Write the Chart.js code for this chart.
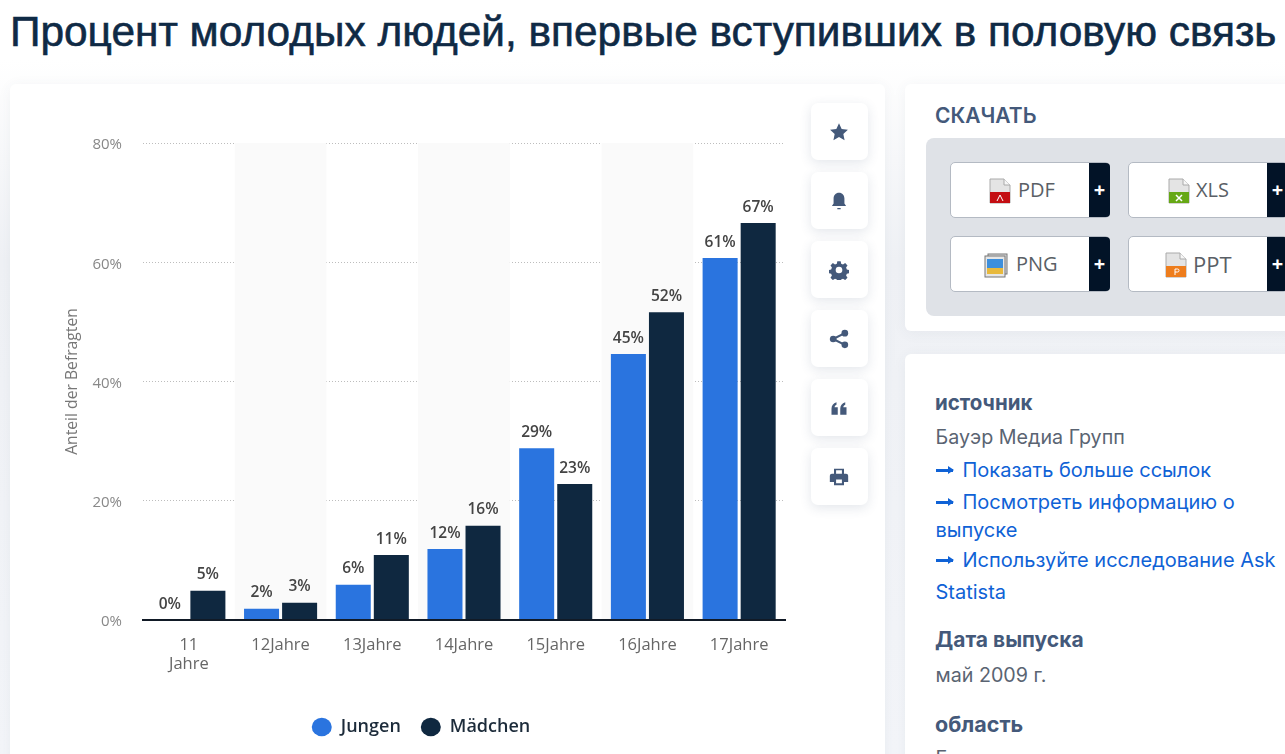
<!DOCTYPE html>
<html lang="ru"><head><meta charset="utf-8">
<script src="https://cdn.jsdelivr.net/npm/chart.js@4/dist/chart.umd.min.js"></script>
<style>
html,body{margin:0;padding:0;width:1285px;height:754px;overflow:hidden;font-family:Inter,sans-serif}
body{background:linear-gradient(180deg,#fff 0,#fff 60px,#eff1f5 260px,#f3f5f9 754px)}
.a{position:absolute}
h1{position:absolute;left:10px;top:9px;margin:0;font:400 42.400px/46px "Liberation Sans",sans-serif;color:#0f2a45;white-space:nowrap;-webkit-text-stroke:.6px #0f2a45}
.panel{position:absolute;background:#fff;border-radius:6px;box-shadow:0 2px 14px rgba(60,80,110,.06)}
#wrap{position:absolute;left:10px;top:84px;width:822px;height:670px}
.ib{position:absolute;left:811px;width:57px;height:57px;background:#fff;border-radius:7px;box-shadow:0 3px 12px rgba(60,80,110,.14);display:flex;align-items:center;justify-content:center}
.ib svg{width:20px;height:20px;fill:#44597a;margin-left:-2px}
.dl{position:absolute;width:160px;height:56px;box-sizing:border-box;background:#fff;border:1px solid #b4bac3;border-radius:5px;font:20px/54px "Open Sans",sans-serif;color:#5a5f66}
.dl .p{position:absolute;right:-1px;top:0;width:21px;height:54px;background:#021327;color:#fff;text-align:center;font:700 20px/54px "Open Sans",sans-serif;border-radius:0 4px 4px 0}
.dl .t{position:absolute;top:0}
.dl svg{position:absolute;top:15px;width:24px;height:26px}
.h{position:absolute;left:935px;font-weight:700;color:#44597a;white-space:nowrap}
.x{position:absolute;left:935.500px;font-size:19.700px;line-height:28px;color:#5a6472;white-space:nowrap}
.l{color:#0f62d6;font-size:20px}
.ar{display:inline-block;width:17px;height:3px;background:#0f62d6;position:relative;vertical-align:5px;margin-right:10px}
.ar:after{content:"";position:absolute;right:-1px;top:-3px;border-left:6px solid #0f62d6;border-top:4.500px solid transparent;border-bottom:4.500px solid transparent}
</style></head><body>
<h1>Процент молодых людей, впервые вступивших в половую связь</h1>
<div class="panel" style="left:10px;top:84px;width:875px;height:700px"></div>
<div class="panel" style="left:905px;top:84px;width:420px;height:247px"></div>
<div class="panel" style="left:905px;top:354px;width:420px;height:440px"></div>
<div id="wrap"><canvas id="c"></canvas></div>

<div class="ib" style="top:103px"><svg viewBox="0 0 24 24"><path d="M12 1.500l3.200 6.900 7.500.9-5.500 5.100 1.500 7.400L12 18.100l-6.700 3.700 1.500-7.400L1.300 9.300l7.500-.9z"/></svg></div>
<div class="ib" style="top:172px"><svg viewBox="0 0 24 24"><path d="M12 2c4 0 6.500 3 6.500 7v6l2 3H3.500l2-3V9c0-4 2.500-7 6.500-7zM10 20.500h4v1.500h-4z"/></svg></div>
<div class="ib" style="top:241px"><svg viewBox="0 0 24 24"><path fill-rule="evenodd" d="M10 1.500h4l.6 3 2.200.9 2.600-1.700 2.800 2.800-1.700 2.600.9 2.200 2.600.6v4l-2.600.6-.9 2.200 1.700 2.600-2.800 2.800-2.600-1.700-2.200.9-.6 2.600h-4l-.6-2.600-2.200-.9-2.600 1.700-2.800-2.800 1.700-2.600-.9-2.200-2.600-.6v-4l2.600-.6.9-2.200-1.700-2.600 2.800-2.800 2.600 1.700 2.200-.9zM12 8a4 4 0 100 8 4 4 0 000-8z"/></svg></div>
<div class="ib" style="top:310px"><svg viewBox="0 0 24 24"><circle cx="5" cy="12" r="4"/><circle cx="19" cy="5" r="4"/><circle cx="19" cy="19" r="4"/><path d="M5 12L19 5M5 12l14 7" stroke="#44597a" stroke-width="2.500" fill="none"/></svg></div>
<div class="ib" style="top:379px"><svg viewBox="0 0 24 24"><path d="M3 20v-7c0-4 2-7 6-8v3c-1.500.6-2.200 1.800-2.300 3H10.500v9zM13.500 20v-7c0-4 2-7 6-8v3c-1.500.6-2.200 1.800-2.300 3H21v9z"/></svg></div>
<div class="ib" style="top:448px"><svg viewBox="0 0 24 24"><path fill-rule="evenodd" d="M6 2h12v6h2.500A2.500 2.500 0 0123 10.500V18h-5v4H6v-4H1v-7.500A2.500 2.500 0 013.500 8H6zM8.500 4v4h7V4zM8.500 15v4.500h7V15z"/></svg></div>

<div class="h" style="top:102px;font-size:21px;line-height:28px;font-weight:600">СКАЧАТЬ</div>
<div class="a" style="left:926px;top:138px;width:370px;height:178px;background:#dfe2e7;border-radius:8px"></div>
<div class="dl" style="left:950px;top:162px"><svg style="left:37px" viewBox="0 0 24 26"><path d="M2 1h14l6 6v18H2z" fill="#e4e4e4" stroke="#aaa"/><path d="M16 1v6h6" fill="#f7f7f7" stroke="#aaa"/><rect x="2" y="14" width="20" height="11" fill="#c40d12"/><path d="M9 23l3-6 3 6" stroke="#fff" fill="none"/></svg><span class="t" style="left:67px">PDF</span><span class="p">+</span></div>
<div class="dl" style="left:1128px;top:162px"><svg style="left:38px" viewBox="0 0 24 26"><path d="M2 1h14l6 6v18H2z" fill="#e4e4e4" stroke="#aaa"/><path d="M16 1v6h6" fill="#f7f7f7" stroke="#aaa"/><rect x="2" y="14" width="20" height="11" fill="#66a815"/><path d="M9 17l6 6M15 17l-6 6" stroke="#fff" stroke-width="1.500"/></svg><span class="t" style="left:67px">XLS</span><span class="p">+</span></div>
<div class="dl" style="left:950px;top:236px"><svg style="left:33px" viewBox="0 0 24 26"><rect x="4" y="2" width="19" height="20" fill="#ddd" stroke="#777"/><rect x="1" y="4" width="20" height="21" fill="#e6e6e6" stroke="#777"/><rect x="3" y="7" width="16" height="15" fill="#3d8fdc"/><rect x="3" y="16" width="16" height="6" fill="#e8b93c"/></svg><span class="t" style="left:65px">PNG</span><span class="p">+</span></div>
<div class="dl" style="left:1128px;top:236px"><svg style="left:35px" viewBox="0 0 24 26"><path d="M2 1h14l6 6v18H2z" fill="#e4e4e4" stroke="#aaa"/><path d="M16 1v6h6" fill="#f7f7f7" stroke="#aaa"/><rect x="2" y="14" width="20" height="11" fill="#ee7d1c"/><path d="M11 23v-6h2.500a1.500 1.500 0 010 3H11" stroke="#fff" fill="none"/></svg><span class="t" style="left:64px;font-size:22px">PPT</span><span class="p">+</span></div>

<div class="h" style="top:389px;font-size:20.500px;line-height:28px">источник</div>
<div class="x" style="top:423px">Бауэр Медиа Групп</div>
<div class="x l" style="top:456px"><span class="ar"></span>Показать больше ссылок</div>
<div class="x l" style="top:488px"><span class="ar"></span>Посмотреть информацию о</div>
<div class="x l" style="top:516px">выпуске</div>
<div class="x l" style="top:546px"><span class="ar"></span>Используйте исследование Ask</div>
<div class="x l" style="top:578px">Statista</div>
<div class="h" style="top:626px;font-size:21px;line-height:28px">Дата выпуска</div>
<div class="x" style="top:661px">май 2009 г.</div>
<div class="h" style="top:710px;font-size:21.500px;line-height:28px">область</div>
<div class="x" style="top:744px">Германия</div>

<script>
const categories = [["11","Jahre"],"12Jahre","13Jahre","14Jahre","15Jahre","16Jahre","17Jahre"];
const jungen = [0,1.9,5.9,11.9,28.8,44.6,60.7];
const maedchen = [4.9,2.9,10.9,15.8,22.8,51.6,66.6];
const yTicks = [0,20,40,60,80];
const seriesNames = ["Jungen","Mädchen"];
const seriesColors = ["#2a74df","#0f2840"];
const UI = '"Open Sans", sans-serif';

const bands = {id:'bands',beforeDatasetsDraw(ch){
  const {ctx,chartArea:a,scales:{x}}=ch;const w=x.getPixelForValue(1)-x.getPixelForValue(0);
  ctx.save();ctx.fillStyle='#fafafa';
  categories.forEach((c,i)=>{if(i%2===1)ctx.fillRect(x.getPixelForValue(i)-w/2,a.top,w,a.bottom-a.top);});
  ctx.restore();
}};
const valueLabels = {id:'valueLabels',afterDatasetsDraw(ch){
  const ctx=ch.ctx;ctx.save();ctx.font='600 15.5px '+UI;ctx.fillStyle='#444';ctx.textAlign='center';ctx.textBaseline='bottom';
  ch.data.datasets.forEach((d,di)=>{ch.getDatasetMeta(di).data.forEach((b,i)=>{ctx.fillText(Math.round(d.data[i])+'%',b.x,b.y-8);});});
  ctx.restore();
}};
Chart.defaults.font.family=UI;
new Chart(document.getElementById('c'),{
  type:'bar',
  data:{labels:categories,datasets:[
    {label:seriesNames[0],data:jungen,backgroundColor:seriesColors[0]},
    {label:seriesNames[1],data:maedchen,backgroundColor:seriesColors[1]}]},
  plugins:[bands,valueLabels],
  options:{
    responsive:true,maintainAspectRatio:false,animation:false,
    devicePixelRatio:1,
    datasets:{bar:{categoryPercentage:0.83,barPercentage:0.92}},
    layout:{padding:{left:47,right:47,top:59,bottom:8}},
    plugins:{tooltip:{enabled:false},
      legend:{position:'bottom',labels:{usePointStyle:true,pointStyle:'circle',boxHeight:13,pointStyleWidth:20,padding:20,color:'#1c2b3a',font:{size:18,weight:'600',family:UI}}}},
    scales:{
      x:{afterFit(s){s.height=78},
        grid:{display:false},border:{color:'#111a26',width:2,z:2},
        ticks:{color:'#666',font:{size:16.5},padding:7,maxRotation:0,autoSkip:false}},
      y:{min:0,max:80,afterFit(s){s.width=86},
        afterBuildTicks(s){s.ticks=yTicks.map(v=>({value:v}))},
        grid:{drawTicks:false,color:c=>c.tick&&c.tick.value===0?'transparent':'#bdbdbd'},
        border:{display:false,dash:[1,2]},
        title:{display:true,text:'Anteil der Befragten',color:'#777',font:{size:15.7},padding:{top:6,bottom:0}},
        ticks:{color:'#888',font:{size:15},padding:21,labelOffset:2,callback:v=>v+'%'}}
    }
  }
});
</script>
</body></html>
